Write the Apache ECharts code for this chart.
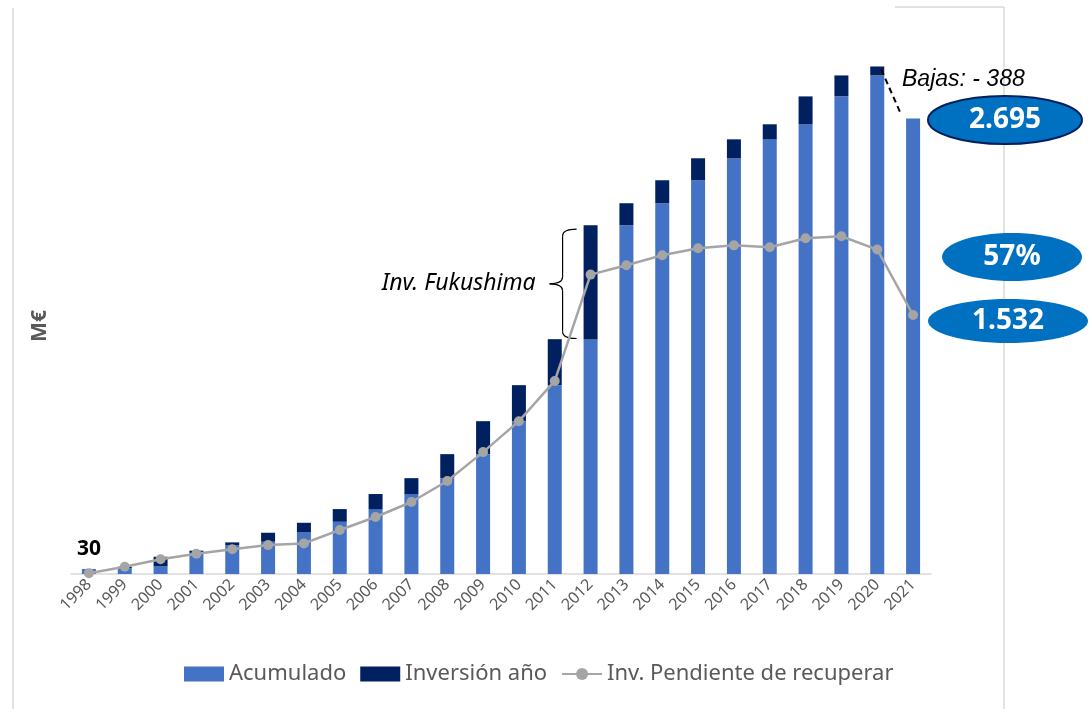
<!DOCTYPE html>
<html>
<head>
<meta charset="utf-8">
<script src="https://cdn.jsdelivr.net/npm/echarts@6/dist/echarts.min.js"></script>
<style>
  html, body { margin: 0; padding: 0; background: #fff; }
  #main { width: 1089px; height: 709px; }
</style>
</head>
<body>
<div id="main"></div>
<script>
// datos (M€)
var years = ['1998','1999','2000','2001','2002','2003','2004','2005','2006','2007','2008','2009',
             '2010','2011','2012','2013','2014','2015','2016','2017','2018','2019','2020','2021']
var acumulado = [30, 35, 45, 125, 171, 191, 246, 309, 384, 473, 567, 709,
                 904, 1117, 1387, 2063, 2193, 2329, 2459, 2571, 2660, 2825, 2949, 2695]
var inversionAno = [0, 8, 57, 13, 16, 53, 57, 75, 89, 94, 142, 195,
                    213, 272, 676, 130, 136, 130, 112, 89, 165, 124, 53, 0]
var pendiente = [5, 43, 87, 120, 146, 171, 181, 260, 337, 426, 550, 721,
                 904, 1142, 1771, 1826, 1885, 1927, 1944, 1933, 1986, 1998, 1919, 1532]

var textGray = '#595959'
var font = 'Noto Sans'

var chart = echarts.init(document.getElementById('main'))

var option = {
    animation: false,
    textStyle: { fontFamily: font },
    grid: { left: 71, right: 158, top: 33, bottom: 135 },
    legend: {
        bottom: 19,
        left: 179,
        itemWidth: 40,
        itemHeight: 15,
        itemGap: 14,
        textStyle: { color: textGray, fontSize: 22, fontFamily: font },
        data: [
            { name: 'Acumulado', icon: 'rect' },
            { name: 'Inversión año', icon: 'rect' },
            { name: 'Inv. Pendiente de recuperar' }
        ]
    },
    xAxis: {
        type: 'category',
        data: years,
        axisLine: { lineStyle: { color: '#D9D9D9', width: 1.5 } },
        axisTick: { show: false },
        axisLabel: { rotate: 45, color: textGray, fontSize: 16, margin: 8, interval: 0 }
    },
    yAxis: {
        type: 'value',
        min: 0,
        max: 3200,
        axisLine: { show: false },
        axisTick: { show: false },
        axisLabel: { show: false },
        splitLine: { show: false }
    },
    series: [
        {
            name: 'Acumulado',
            type: 'bar',
            stack: 'total',
            barWidth: 14,
            itemStyle: { color: '#4472C4' },
            data: acumulado.map(function (v, i) {
                if (i === 0) {
                    return { value: v, label: { show: true, position: 'top', distance: 9,
                        formatter: String(v), color: '#000', fontWeight: 'bold', fontSize: 21 } }
                }
                return v
            })
        },
        {
            name: 'Inversión año',
            type: 'bar',
            stack: 'total',
            barWidth: 14,
            itemStyle: { color: '#002060' },
            data: inversionAno
        },
        {
            name: 'Inv. Pendiente de recuperar',
            type: 'line',
            symbol: 'circle',
            symbolSize: 10,
            lineStyle: { color: '#A5A5A5', width: 2.5 },
            itemStyle: { color: '#A5A5A5' },
            data: pendiente
        }
    ]
}
chart.setOption(option)

// anotaciones ligadas a las barras
function px(i, v) { return chart.convertToPixel({ gridIndex: 0 }, [i, v]) }

var i12 = years.indexOf('2012'), i20 = years.indexOf('2020'), i21 = years.indexOf('2021')
var top12 = px(i12, acumulado[i12] + inversionAno[i12])
var bot12 = px(i12, acumulado[i12])
var xr = top12[0] - 14, xv = top12[0] - 28, xt = top12[0] - 41
var yt = top12[1] + 4, yb = bot12[1] - 1, ym = (yt + yb) / 2
var braceStyle = { stroke: '#000', lineWidth: 1.2, fill: null }

var top20 = px(i20, acumulado[i20] + inversionAno[i20])
var top21 = px(i21, acumulado[i21])

function ellipse(cx, cy, rx, ry, txt, stroke) {
    return {
        type: 'group', z: 100,
        children: [
            { type: 'ellipse', shape: { cx: cx, cy: cy, rx: rx, ry: ry },
              style: { fill: '#0070C0', stroke: stroke || null, lineWidth: stroke ? 2 : 0 } },
            { type: 'text', x: cx, y: cy,
              style: { text: txt, fill: '#fff', font: 'bold 28px "Noto Sans"', align: 'center', verticalAlign: 'middle' } }
        ]
    }
}

chart.setOption({
    graphic: [
        // marco
        { type: 'line', shape: { x1: 13, y1: 8, x2: 13, y2: 709 }, style: { stroke: '#D9D9D9', lineWidth: 1.5 } },
        { type: 'line', shape: { x1: 1004, y1: 7, x2: 1004, y2: 709 }, style: { stroke: '#D9D9D9', lineWidth: 1.5 } },
        { type: 'line', shape: { x1: 895, y1: 7, x2: 1004, y2: 7 }, style: { stroke: '#D9D9D9', lineWidth: 1.5 } },
        // titulo eje Y
        { type: 'text', x: 40, y: 326, rotation: Math.PI / 2,
          style: { text: 'M€', fill: textGray, font: 'bold 21px "Noto Sans"', align: 'center', verticalAlign: 'middle' } },
        // llave Fukushima
        { type: 'bezierCurve', shape: { x1: xr, y1: yt, x2: xv, y2: yt + 7, cpx1: xv, cpy1: yt }, style: braceStyle },
        { type: 'line', shape: { x1: xv, y1: yt + 7, x2: xv, y2: ym - 7 }, style: braceStyle },
        { type: 'bezierCurve', shape: { x1: xv, y1: ym - 7, x2: xt, y2: ym, cpx1: xv, cpy1: ym }, style: braceStyle },
        { type: 'bezierCurve', shape: { x1: xt, y1: ym, x2: xv, y2: ym + 7, cpx1: xv, cpy1: ym }, style: braceStyle },
        { type: 'line', shape: { x1: xv, y1: ym + 7, x2: xv, y2: yb - 7 }, style: braceStyle },
        { type: 'bezierCurve', shape: { x1: xv, y1: yb - 7, x2: xr, y2: yb, cpx1: xv, cpy1: yb }, style: braceStyle },
        { type: 'text', x: xt - 14, y: ym,
          style: { text: 'Inv. Fukushima', fill: '#000', font: 'italic 23px "Noto Sans"', align: 'right', verticalAlign: 'middle' } },
        // bajas
        { type: 'line', z: 50, shape: { x1: top20[0] + 4, y1: top20[1] + 3, x2: top21[0] - 12, y2: top21[1] - 4 },
          style: { stroke: '#000', lineWidth: 2, lineDash: [6, 4] } },
        { type: 'text', x: 902, y: 80,
          style: { text: 'Bajas: - 388', fill: '#000', font: 'italic 23px "Liberation Sans"', align: 'left', verticalAlign: 'middle' } },
        // ovalos
        ellipse(1005, 120, 77, 24, '2.695', '#002060'),
        ellipse(1012, 257, 70, 24, '57%'),
        ellipse(1008, 321, 80, 22, '1.532')
    ]
})
</script>
</body>
</html>
